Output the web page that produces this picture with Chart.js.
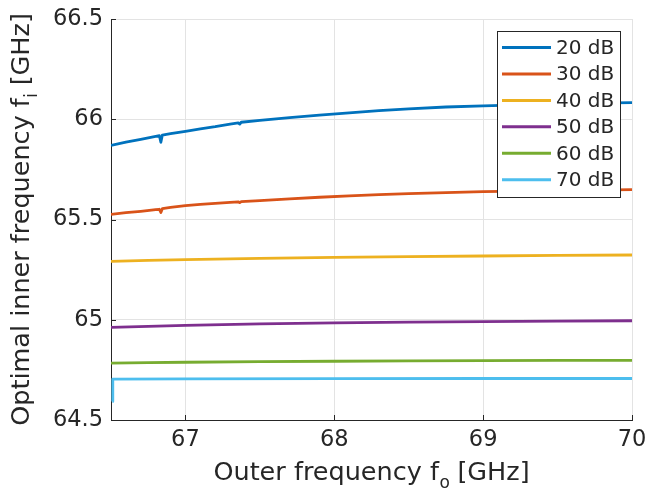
<!DOCTYPE html>
<html>
<head>
<meta charset="utf-8">
<script src="https://cdn.jsdelivr.net/npm/chart.js@4/dist/chart.umd.min.js"></script>
<style>
  html, body { margin: 0; padding: 0; background: #ffffff; }
  #wrap { width: 648px; height: 492px; }
</style>
</head>
<body>
<div id="wrap"><canvas id="c" width="648" height="492"></canvas></div>
<script>
// ---------------- data ----------------
const seriesLabels = ['20 dB', '30 dB', '40 dB', '50 dB', '60 dB', '70 dB'];

// outer frequency samples (GHz) for the curves with glitches
const foDip = [66.5, 66.6, 66.7, 66.8, 66.825, 66.835, 66.845, 66.9, 67.0, 67.1, 67.2, 67.3,
               67.355, 67.365, 67.375, 67.5, 67.7, 67.9, 68.1, 68.3, 68.5, 68.75, 69.0, 69.25,
               69.5, 69.75, 70.0];
const fi20 = [65.870, 65.886, 65.900, 65.915, 65.918, 65.885, 65.921, 65.928, 65.940, 65.952, 65.963, 65.976,
              65.982, 65.976, 65.985, 65.994, 66.008, 66.021, 66.032, 66.043, 66.052, 66.061, 66.067, 66.072,
              66.076, 66.080, 66.083];
const fi30 = [65.526, 65.534, 65.541, 65.549, 65.551, 65.535, 65.554, 65.560, 65.569, 65.575, 65.580, 65.585,
              65.588, 65.584, 65.589, 65.594, 65.603, 65.611, 65.618, 65.624, 65.629, 65.634, 65.639, 65.642,
              65.645, 65.647, 65.649];

// outer frequency samples for the flat curves
const foFlat = [66.5, 66.75, 67.0, 67.5, 68.0, 68.5, 69.0, 69.5, 70.0];
const fi40 = [65.291, 65.296, 65.300, 65.306, 65.311, 65.315, 65.318, 65.321, 65.323];
const fi50 = [64.962, 64.967, 64.972, 64.979, 64.984, 64.988, 64.991, 64.993, 64.995];
const fi60 = [64.784, 64.786, 64.788, 64.791, 64.793, 64.795, 64.796, 64.797, 64.797];

const foStep = [66.51, 66.512, 67.0, 68.0, 69.0, 70.0];
const fi70 = [64.592, 64.704, 64.705, 64.706, 64.707, 64.707];

const xTicks = [67, 68, 69, 70];
const yTicks = [64.5, 65, 65.5, 66, 66.5];

const colors = ['#0072BD', '#D95319', '#EDB120', '#7E2F8E', '#77AC30', '#4DBEEE'];

// ---------------- build ----------------
function pts(xs, ys) { return xs.map((x, i) => ({ x: x, y: ys[i] })); }
const seriesData = [
  pts(foDip, fi20), pts(foDip, fi30), pts(foFlat, fi40),
  pts(foFlat, fi50), pts(foFlat, fi60), pts(foStep, fi70)
];

const FONT = '"DejaVu Sans", "Liberation Sans", sans-serif';
const TXT = '#262626';
const TICK_SIZE = 22.5;
const TITLE_SIZE = 25.5;
const SUB_SIZE = 17;

const decorPlugin = {
  id: 'decor',
  afterDraw(chart) {
    const ctx = chart.ctx;
    const a = chart.chartArea;
    const xs = chart.scales.x, ys = chart.scales.y;
    ctx.save();
    // inward tick marks (MATLAB style)
    ctx.strokeStyle = TXT;
    ctx.lineWidth = 1;
    ctx.beginPath();
    xTicks.forEach(v => {
      const px = Math.round(xs.getPixelForValue(v)) + 0.5;
      ctx.moveTo(px, a.bottom); ctx.lineTo(px, a.bottom - 5);
    });
    yTicks.forEach(v => {
      const py = Math.round(ys.getPixelForValue(v)) + 0.5;
      ctx.moveTo(a.left, py); ctx.lineTo(a.left + 5, py);
    });
    ctx.stroke();

    // axis titles with subscripts
    ctx.fillStyle = TXT;
    ctx.textBaseline = 'alphabetic';
    ctx.textAlign = 'left';
    function subTitle(main, sub, tail, cx, by) {
      ctx.font = TITLE_SIZE + 'px ' + FONT;
      const w1 = ctx.measureText(main).width;
      const w3 = ctx.measureText(tail).width;
      ctx.font = SUB_SIZE + 'px ' + FONT;
      const w2 = ctx.measureText(sub).width;
      const start = cx - (w1 + w2 + w3) / 2;
      ctx.font = TITLE_SIZE + 'px ' + FONT;
      ctx.fillText(main, start, by);
      ctx.font = SUB_SIZE + 'px ' + FONT;
      ctx.fillText(sub, start + w1 + 0.5, by + 8);
      ctx.font = TITLE_SIZE + 'px ' + FONT;
      ctx.fillText(tail, start + w1 + w2, by);
    }
    subTitle('Outer frequency f', 'o', ' [GHz]', (a.left + a.right) / 2, 480);
    ctx.save();
    ctx.translate(29, (a.top + a.bottom) / 2);
    ctx.rotate(-Math.PI / 2);
    subTitle('Optimal inner frequency f', 'i', ' [GHz]', 0, 0);
    ctx.restore();

    // legend box
    const bw = 123, bh = 166;
    const bx = a.right - 12 - bw, by = a.top + 12;
    ctx.fillStyle = '#ffffff';
    ctx.fillRect(bx, by, bw, bh);
    ctx.strokeStyle = '#262626';
    ctx.lineWidth = 1;
    ctx.strokeRect(Math.round(bx) + 0.5, Math.round(by) + 0.5, bw, bh);
    ctx.font = '20px ' + FONT;
    ctx.textBaseline = 'middle';
    chart.data.datasets.forEach((ds, i) => {
      const cy = by + 16.5 + i * 26.45;
      ctx.strokeStyle = ds.borderColor;
      ctx.lineWidth = 3;
      ctx.beginPath();
      ctx.moveTo(bx + 5, cy); ctx.lineTo(bx + 54, cy);
      ctx.stroke();
      ctx.fillStyle = TXT;
      ctx.fillText(ds.label, bx + 59, cy + 1);
    });
    ctx.restore();
  }
};

new Chart(document.getElementById('c'), {
  type: 'line',
  data: {
    datasets: seriesLabels.map((lab, i) => ({
      label: lab,
      data: seriesData[i],
      borderColor: colors[i],
      backgroundColor: colors[i],
      borderWidth: 2.8,
      borderJoinStyle: 'round',
      pointRadius: 0,
      tension: 0,
      fill: false
    }))
  },
  options: {
    responsive: false,
    animation: false,
    devicePixelRatio: 1,
    layout: { padding: { top: 19, right: 16, left: 0, bottom: 0 } },
    plugins: { legend: { display: false }, tooltip: { enabled: false } },
    scales: {
      x: {
        type: 'linear',
        min: 66.5, max: 70,
        afterBuildTicks: s => { s.ticks = xTicks.map(v => ({ value: v })); },
        afterFit: s => { s.height = 72; s.paddingRight = 0; s.paddingLeft = 0; },
        ticks: {
          callback: v => String(v),
          color: TXT,
          font: { family: FONT, size: TICK_SIZE },
          padding: 7,
          maxRotation: 0
        },
        grid: { color: '#e3e3e3', lineWidth: 1, drawTicks: false },
        border: { color: TXT, width: 1 }
      },
      y: {
        type: 'linear',
        min: 64.5, max: 66.5,
        afterBuildTicks: s => { s.ticks = yTicks.map(v => ({ value: v })); },
        afterFit: s => { s.width = 111; s.paddingTop = 0; s.paddingBottom = 0; },
        ticks: {
          callback: v => String(v),
          color: TXT,
          font: { family: FONT, size: TICK_SIZE },
          padding: 8
        },
        grid: { color: '#e3e3e3', lineWidth: 1, drawTicks: false },
        border: { color: TXT, width: 1 }
      }
    }
  },
  plugins: [decorPlugin]
});
</script>
</body>
</html>
